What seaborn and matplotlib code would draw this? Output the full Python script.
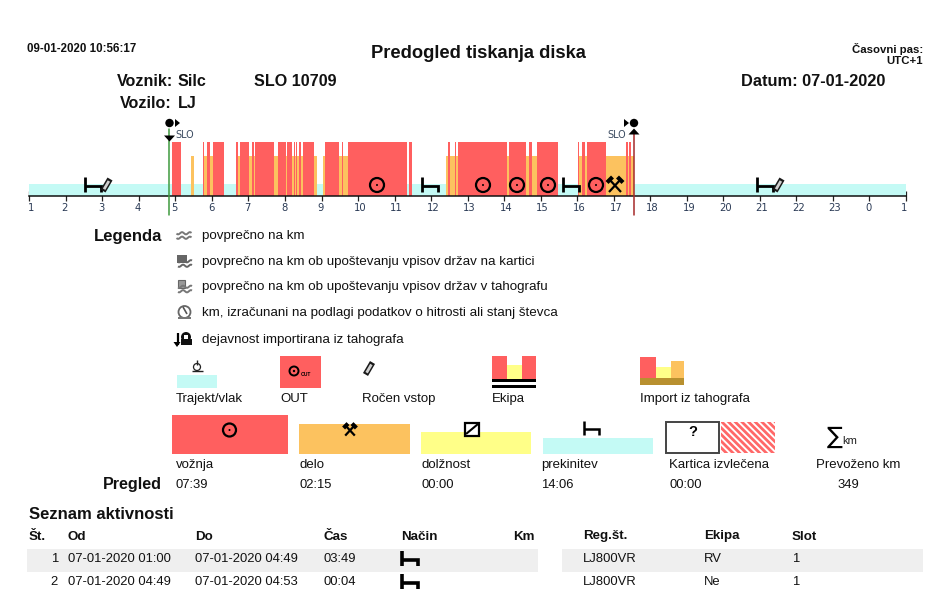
import numpy as np
import pandas as pd
import matplotlib
matplotlib.use("Agg")
import matplotlib.pyplot as plt
from matplotlib.patches import Rectangle, Circle, Polygon
from matplotlib.transforms import ScaledTranslation
import seaborn as sns

# ---- data -------------------------------------------------------------
seg_ends = [4.90, 5.16, 5.43, 5.50, 5.76, 5.79, 5.87, 5.96, 6.04, 6.33,
            6.66, 6.71, 6.77, 7.02, 7.09, 7.15, 7.19, 7.25, 7.27, 7.70,
            7.80, 8.03, 8.06, 8.20, 8.24, 8.28, 8.31, 8.34, 8.37, 8.43,
            8.49, 8.79, 8.87, 9.03, 9.10, 9.47, 9.495, 9.51, 9.56, 9.60,
            9.73, 11.34, 11.40, 11.49, 12.40, 12.47, 12.51, 12.65, 12.68, 12.73,
            14.07, 14.13, 14.60, 14.68, 14.77, 14.90, 15.48, 16.01, 16.04, 16.14,
            16.21, 16.27, 16.78, 17.34, 17.39, 17.42, 17.47, 17.56, 25.0]
seg_kinds = ("rest drive rest work rest drive work drive work drive "
             "rest drive work drive work drive work drive work drive "
             "work drive work drive work drive work drive work drive "
             "work drive work rest work drive work drive work drive "
             "work drive rest drive rest work drive work drive work "
             "drive work drive work drive work drive rest drive work "
             "drive work drive work drive work drive work rest").split()
kind_levels = {"rest": 12, "work": 40, "drive": 54}
kind_colors = {"rest": "#c4faf5", "work": "#fcc25f", "drive": "#ff5f5f"}
hour_labels = [1, 2, 3, 4, 5, 6, 7, 8, 9, 10, 11, 12, 13, 14, 15, 16, 17, 18, 19, 20, 21, 22, 23, 0, 1]
start_hour = 1.0
crossing_in = 4.83
crossing_out = 17.55

legend_lines = ["povprečno na km",
                "povprečno na km ob upoštevanju vpisov držav na kartici",
                "povprečno na km ob upoštevanju vpisov držav v tahografu",
                "km, izračunani na podlagi podatkov o hitrosti ali stanj števca",
                "dejavnost importirana iz tahografa"]
overview_names = ["vožnja", "delo", "dolžnost", "prekinitev", "Kartica izvlečena", "Prevoženo km"]
overview_values = ["07:39", "02:15", "00:00", "14:06", "00:00", "349"]
table_head = ["Št.", "Od", "Do", "Čas", "Način", "Km", "Reg.št.", "Ekipa", "Slot"]
row_no = ["1", "2"]
row_from = ["07-01-2020 01:00", "07-01-2020 04:49"]
row_to = ["07-01-2020 04:49", "07-01-2020 04:53"]
row_time = ["03:49", "00:04"]
row_reg = ["LJ800VR", "LJ800VR"]
row_crew = ["RV", "Ne"]
row_slot = ["1", "1"]

# ---- figure -----------------------------------------------------------
sns.set_theme(style="white")
plt.rcParams["font.family"] = ["Liberation Sans", "DejaVu Sans"]
W, H = 932, 594
fig = plt.figure(figsize=(W / 100, H / 100), dpi=100, facecolor="white")

# timeline, placed by pixel; one histogram bin per activity segment
x0, x1, base, top = 29.3, 906.0, 196.0, 140.0
ax = fig.add_axes([x0 / W, 1 - base / H, (x1 - x0) / W, (base - top) / H])
edges = [start_hour] + seg_ends
df = pd.DataFrame({"mid": (np.array(edges[:-1]) + np.array(edges[1:])) / 2,
                   "kind": seg_kinds})
df["level"] = df["kind"].map(kind_levels)
sns.histplot(data=df, x="mid", weights="level", bins=edges, hue="kind", palette=kind_colors,
             hue_order=["rest", "work", "drive"], multiple="layer", alpha=1, linewidth=0,
             legend=False, ax=ax)
ax.set_xlim(1, 25)
ax.set_ylim(0, base - top)
ax.set_xticks(range(1, 26))
ax.set_xticklabels(hour_labels)
ax.set_yticks([])
ax.set_xlabel("")
ax.set_ylabel("")
ax.patch.set_alpha(0)
for s in ["top", "left", "right"]:
    ax.spines[s].set_visible(False)
ax.spines["bottom"].set_linewidth(1.1)
ax.spines["bottom"].set_color("#111111")
ax.tick_params(axis="x", bottom=True, direction="inout", length=7.5, width=0.9, color="#222222",
               labelsize=7.2, labelcolor="#2a3a55", pad=1.5)
labels = ax.get_xticklabels()
for i, t in enumerate(labels):
    t.set_family(["DejaVu Sans"])
    dx = 2 if len(t.get_text()) == 2 else -1
    if i == 0:
        dx = 2
    if i == len(labels) - 1:
        dx = -2
    t.set_transform(t.get_transform() + ScaledTranslation(dx / 100, 0, fig.dpi_scale_trans))
ax.axvline(crossing_in, ymin=-19 / 56, ymax=67 / 56, color="#3f9a3f", lw=1.1, clip_on=False, zorder=3)
ax.axvline(crossing_out, ymin=-19 / 56, ymax=62 / 56, color="#a52a2a", lw=1.1, clip_on=False, zorder=3)

# overlay in pixel coordinates for page furniture
ov = fig.add_axes([0, 0, 1, 1])
ov.set_xlim(0, W)
ov.set_ylim(H, 0)
ov.axis("off")
ov.patch.set_alpha(0)


def txt(x, y, s, size=9.55, weight="normal", ha="left", color="#111111", **kw):
    return ov.text(x, y + 1, s, fontsize=size, fontweight=weight, ha=ha, va="center", color=color, **kw)


def rect(x0_, y0_, x1_, y1_, fc, **kw):
    ov.add_patch(Rectangle((x0_, y0_), x1_ - x0_, y1_ - y0_, facecolor=fc, edgecolor=kw.pop("ec", "none"), **kw))


def line(xs, ys, lw=1.5, c="black", **kw):
    ov.plot(xs, ys, color=c, lw=lw, solid_capstyle="butt", solid_joinstyle="miter", **kw)


def bed(x, y, lw=2.0):
    line([x, x], [y - 8, y + 7], lw)
    line([x, x + 16, x + 16], [y + 1, y + 1, y + 7], lw)


def wheel(x, y, r=7.0):
    ov.add_patch(Circle((x, y), r, fc="none", ec="black", lw=1.6))
    ov.add_patch(Circle((x, y), 1.0, fc="black", ec="none"))


def hammers(x, y, s=1.0):
    line([x - 6 * s, x + 6 * s], [y - 6 * s, y + 7 * s], 1.6)
    line([x + 6 * s, x - 6 * s], [y - 6 * s, y + 7 * s], 1.6)
    line([x - 8 * s, x - 2.5 * s], [y - 2.5 * s, y - 8 * s], 3.0)
    line([x + 8 * s, x + 2.5 * s], [y - 2.5 * s, y - 8 * s], 3.0)


def pencil(x, y):
    line([x - 3.5, x + 3.5], [y + 6.5, y - 5.5], 4.2, c="#1a1a1a")
    line([x - 2.4, x + 2.4], [y + 4.7, y - 3.5], 2.0, c="#d0d0d0")


def waves(x, y, w=7.5, c="#777777", lw=1.4, n=2):
    xs = np.linspace(x - w, x + w, 24)
    for k in range(n):
        line(xs, y + (k - (n - 1) / 2) * 4.5 + 1.1 * np.sin((xs - x) * 0.8), lw, c)


# header
txt(27, 48, "09-01-2020 10:56:17", 8.3, "bold")
txt(478.5, 53, "Predogled tiskanja diska", 13.2, "bold", ha="center")
txt(923, 48, "Časovni pas:", 8.2, "bold", ha="right")
txt(923, 60, "UTC+1", 8.2, "bold", ha="right")
txt(117, 81, "Voznik:", 11.6, "bold")
txt(178, 81, "Silc", 11.6, "bold")
tt = txt(254, 81, "SLO 10709", 11.6, "bold")
tt.set_clip_path(Rectangle((250, 70), 81, 22, transform=ov.transData))
txt(120, 102, "Vozilo:", 11.6, "bold")
txt(178, 102, "LJ", 11.6, "bold")
txt(741, 81, "Datum: 07-01-2020", 11.8, "bold")

# timeline icons
bed(84.5, 185)
pencil(106.5, 184.5)
for xw in [377, 483, 517, 548, 596]:
    wheel(xw, 185)
bed(422, 185)
bed(562.5, 185)
hammers(615, 185)
bed(756.5, 185)
pencil(778.5, 184.5)

# border crossing markers
px_in, px_out = 169.5, 634.0
ov.add_patch(Circle((px_in, 123), 4.2, fc="black", ec="none"))
ov.add_patch(Polygon([[175, 119], [180, 123], [175, 127]], fc="black", ec="none"))
ov.add_patch(Polygon([[164, 135.5], [175, 135.5], [169.5, 141.5]], fc="black", ec="none"))
txt(175.5, 134, "SLO", 6.9, color="#3a4a60", family=["DejaVu Sans"])
ov.add_patch(Circle((px_out, 123), 4.2, fc="black", ec="none"))
ov.add_patch(Polygon([[624, 119], [629, 123], [624, 127]], fc="black", ec="none"))
ov.add_patch(Polygon([[628.5, 134.5], [639.5, 134.5], [634, 128.5]], fc="black", ec="none"))
txt(607.5, 134, "SLO", 6.9, color="#3a4a60", family=["DejaVu Sans"])

# legend
txt(94, 235, "Legenda", 12, "bold")
for yy, s in zip([235.5, 261, 286, 312, 338.5], legend_lines):
    txt(201.5, yy, s, 9.6)
waves(184, 235.5)
rect(177, 254.5, 187, 263, "#666666")
waves(185, 263.5, 7, "#666666")
rect(178, 279.5, 185, 288, "#999999", ec="#666666", lw=0.8)
waves(185, 289, 7, "#777777")
ov.add_patch(Circle((184.5, 312), 6, fc="none", ec="#666666", lw=1.3))
line([183, 187], [307, 314], 1.2, "#555555")
rect(178, 317, 191, 319, "#777777")
ov.add_patch(Circle((186, 337), 5, fc="#111111", ec="none"))
rect(181, 339, 192, 345, "#111111")
rect(184, 335, 188, 339, "white")
line([178, 178], [333, 345], 1.6)
ov.add_patch(Polygon([[173.5, 342], [180.5, 342], [177, 347]], fc="black", ec="none"))

# swatches row
rect(176.5, 375, 217, 388, kind_colors["rest"])
ov.add_patch(Circle((197, 367), 3.5, fc="white", ec="#222222", lw=0.9))
line([197, 197], [360, 365], 1.0, "#222222")
line([191.5, 202.5], [371, 371], 1.0, "#222222")
txt(176, 398, "Trajekt/vlak")
rect(280, 356, 321, 388, kind_colors["drive"])
ov.add_patch(Circle((294, 371), 4.5, fc="none", ec="black", lw=1.4))
ov.add_patch(Circle((294, 371), 1.2, fc="black", ec="none"))
txt(300.5, 373, "OUT", 3.6, "bold", color="black")
txt(280, 398, "OUT")
pencil(369, 368)
txt(362, 398, "Ročen vstop")
rect(491.5, 356, 507, 379, kind_colors["drive"])
rect(507, 365, 522, 379, "#ffff88")
rect(522, 356, 535.5, 379, kind_colors["drive"])
rect(491.5, 379, 535.5, 382, "black")
rect(491.5, 385, 535.5, 388, "black")
txt(492, 398, "Ekipa")
rect(640, 356.5, 656, 378, kind_colors["drive"])
rect(656, 367, 671, 378, "#ffff88")
rect(671, 361, 684, 378, kind_colors["work"])
rect(640, 378, 684, 385, "#b8902f")
txt(640, 398, "Import iz tahografa")

# overview
txt(103, 484, "Pregled", 11.6, "bold")
rect(172, 415, 288, 453.5, kind_colors["drive"])
rect(299, 423.5, 410, 453.5, "#fcc25f")
rect(421, 432, 531, 453.5, "#ffff88")
rect(543, 438, 653, 453.5, kind_colors["rest"])
wheel(229.5, 430, 6.5)
hammers(350, 430, 0.8)
rect(464.5, 422.5, 479, 435.5, "white", ec="black", lw=1.6)
line([466, 478], [434, 424], 1.5)
line([583.5, 583.5], [421, 435], 1.8)
line([583.5, 599, 599], [429, 429, 435], 1.8)
rect(665.5, 421.5, 718.5, 453, "white", ec="#444444", lw=1.4)
txt(693, 431, "?", 10.5, "bold", ha="center", color="black")
plt.rcParams["hatch.linewidth"] = 2.0
ov.add_patch(Rectangle((721, 421.5), 54, 31.5, facecolor="white", edgecolor="#ff6868", hatch="\\\\\\\\\\", lw=0))
txt(835, 436, "∑", 17, color="black", ha="center", family=["DejaVu Sans"])
txt(842, 440, "km", 8.0, color="#222222")
for x_, name, x_v, val in zip([176, 300, 421, 541, 669, 816], overview_names,
                              [176, 300, 421, 541.5, 669, 837], overview_values):
    txt(x_, 464, name)
    txt(x_v, 484, val, 9.4)

# activity list
txt(29, 513.5, "Seznam aktivnosti", 12, "bold")
for x_, h in zip([29, 68, 195, 323, 401, 513, 583, 704, 792], table_head):
    txt(x_, 535.5, h, 9.6, "bold")
rect(27, 549, 538, 572, "#efefef")
rect(562, 549, 923, 572, "#efefef")
for i, yy in enumerate([558, 581]):
    txt(58, yy, row_no[i], 9.4, ha="right")
    txt(68, yy, row_from[i], 9.4)
    txt(195, yy, row_to[i], 9.4)
    txt(323, yy, row_time[i], 9.4)
    bed(402, yy + 1, lw=2.6)
    txt(583, yy, row_reg[i], 9.4)
    txt(704, yy, row_crew[i], 9.4)
    txt(792, yy, row_slot[i], 9.4)

fig.savefig("out.png", dpi=100)
